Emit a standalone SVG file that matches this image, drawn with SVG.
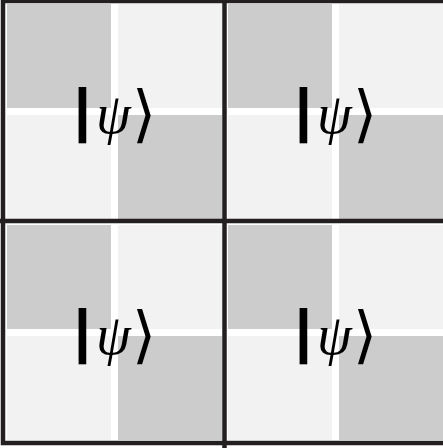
<svg xmlns="http://www.w3.org/2000/svg" width="443" height="448" viewBox="0 0 443 448">
<style>
.dk{fill:#cccccc}
.lt{fill:#f2f2f2}
.ln{stroke:#231f20;stroke-width:4.5;fill:none}
.lbl{fill:#000;text-anchor:middle}
.bar{font-family:"Liberation Sans",sans-serif;font-weight:bold;font-size:60px}
.psi{font-family:"Liberation Serif",serif;font-style:italic;font-size:56px}
.br{font-family:"DejaVu Sans",sans-serif;font-size:62px}
</style>
<defs>
<g id="cell">
<rect class="dk" x="0" y="0" width="104" height="104"/>
<rect class="lt" x="111" y="0" width="104" height="104"/>
<rect class="lt" x="0" y="111" width="104" height="104"/>
<rect class="dk" x="111" y="111" width="104" height="104"/>
<text class="lbl bar" x="75.5" y="125.5">|</text>
<text class="lbl psi" x="106.5" y="129">ψ</text>
<text class="lbl br" x="137" y="131">⟩</text>
</g>
</defs>
<rect width="443" height="448" fill="#fff"/>
<g id="cell-tl"><use href="#cell" x="7" y="4"/></g>
<g id="cell-tr"><use href="#cell" x="228" y="4"/></g>
<g id="cell-bl"><use href="#cell" x="7" y="225"/></g>
<g id="cell-br"><use href="#cell" x="228" y="225"/></g>
<g id="grid">
<rect class="ln" x="3" y="1" width="443" height="442"/>
<line class="ln" x1="224.5" y1="0" x2="224.5" y2="448"/>
<line class="ln" x1="0" y1="221" x2="443" y2="221"/>
</g>
</svg>
